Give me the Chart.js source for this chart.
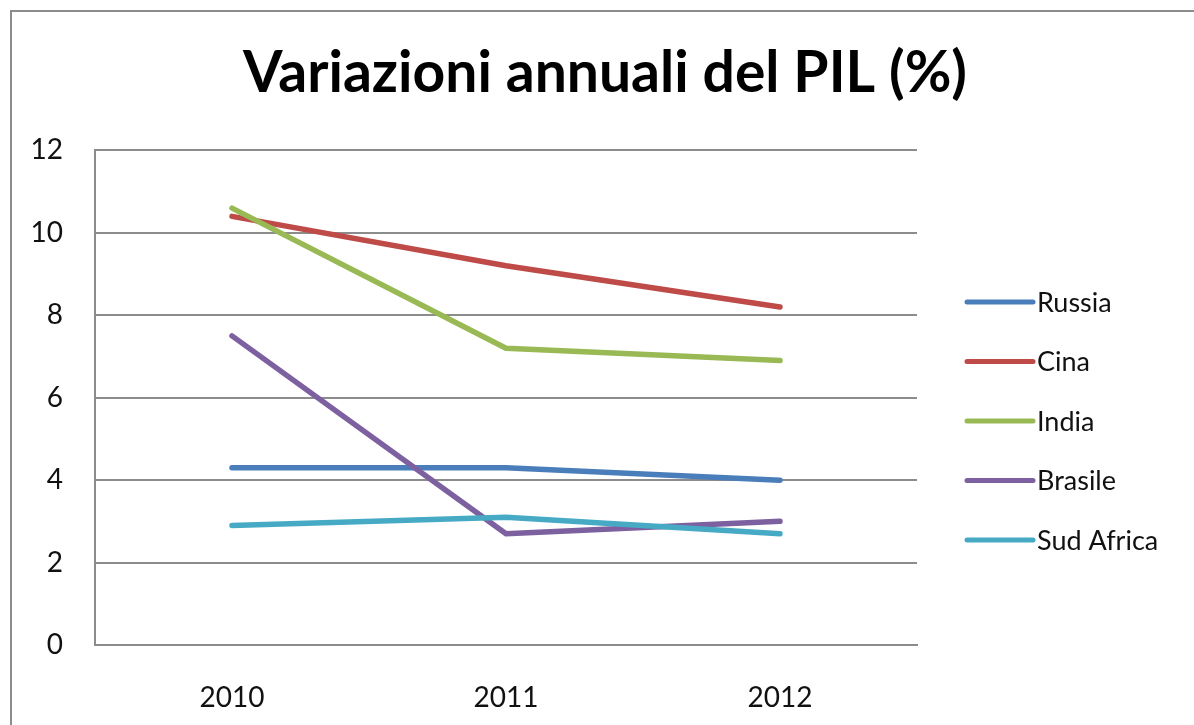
<!DOCTYPE html>
<html>
<head>
<meta charset="utf-8">
<script src="https://cdn.jsdelivr.net/npm/chart.js@4/dist/chart.umd.min.js"></script>
<style>
  html, body { margin: 0; padding: 0; background: #fff; overflow: hidden; }
  #wrap { position: relative; width: 1194px; height: 725px; }
  #frame { position: absolute; left: 10px; top: 10px; width: 1200px; height: 800px; border: 2px solid #8c8c8c; box-sizing: border-box; pointer-events: none; }
  canvas { position: absolute; left: 0; top: 0; }
</style>
</head>
<body>
<div id="wrap">
  <canvas id="chart" width="1194" height="725"></canvas>
  <div id="frame"></div>
</div>
<script>
const years = ['2010', '2011', '2012'];
const countries = ['Russia', 'Cina', 'India', 'Brasile', 'Sud Africa'];
const russia = [4.3, 4.3, 4.0];
const cina = [10.4, 9.2, 8.2];
const india = [10.6, 7.2, 6.9];
const brasile = [7.5, 2.7, 3.0];
const sudAfrica = [2.9, 3.1, 2.7];
const colors = ['#4a7ebb', '#be4b48', '#98b954', '#7d60a0', '#46aac5'];

const series = [russia, cina, india, brasile, sudAfrica];
const gridCol = '#8c8c8c';
const font = 'Lato, "Open Sans", sans-serif';

// legend drawn by hand so it sits where Excel put it
const sideLegend = {
    id: 'sideLegend',
    afterDraw(chart) {
        const ctx = chart.ctx;
        ctx.save();
        ctx.font = '27px ' + font;
        ctx.textBaseline = 'middle';
        ctx.textAlign = 'left';
        chart.data.datasets.forEach((ds, i) => {
            const y = 302 + i * 59.5;
            ctx.strokeStyle = ds.borderColor;
            ctx.lineWidth = 5;
            ctx.lineCap = 'round';
            ctx.beginPath();
            ctx.moveTo(967, y);
            ctx.lineTo(1033, y);
            ctx.stroke();
            ctx.fillStyle = '#111';
            ctx.fillText(ds.label, 1037, y + 1);
        });
        ctx.restore();
    }
};

new Chart(document.getElementById('chart'), {
    type: 'line',
    data: {
        labels: years,
        datasets: countries.map((c, i) => ({
            label: c, data: series[i], borderColor: colors[i], backgroundColor: colors[i],
            borderWidth: 5.5, pointRadius: 0, tension: 0, order: countries.length - i,
            borderCapStyle: 'round', borderJoinStyle: 'round'
        }))
    },
    options: {
        responsive: false, animation: false,
        layout: { padding: { left: 16, top: 0, right: 0, bottom: 0 } },
        plugins: {
            legend: { display: false },
            tooltip: { enabled: false },
            title: {
                display: true, text: 'Variazioni annuali del PIL (%)', color: '#000',
                font: { family: font, size: 57, weight: 'bold' },
                padding: { top: 39, bottom: 43 }
            }
        },
        scales: {
            x: {
                offset: true,
                grid: { display: false },
                border: { display: true, color: gridCol, width: 2 },
                ticks: { color: '#111', padding: 28, font: { family: font, size: 28 } },
                afterFit: s => { s.height = 80; }
            },
            y: {
                min: 0, max: 12,
                grid: { color: gridCol, lineWidth: 2, drawTicks: false },
                border: { display: true, color: gridCol, width: 2 },
                ticks: { stepSize: 2, color: '#111', padding: 32, font: { family: font, size: 28 } },
                afterFit: s => { s.width = 79; }
            },
            // empty right-hand box that keeps room for the legend
            side: {
                position: 'right', min: 0, max: 12,
                grid: { display: false }, border: { display: false },
                ticks: { display: false },
                afterFit: s => { s.width = 277; }
            }
        }
    },
    plugins: [sideLegend]
});
</script>
</body>
</html>
